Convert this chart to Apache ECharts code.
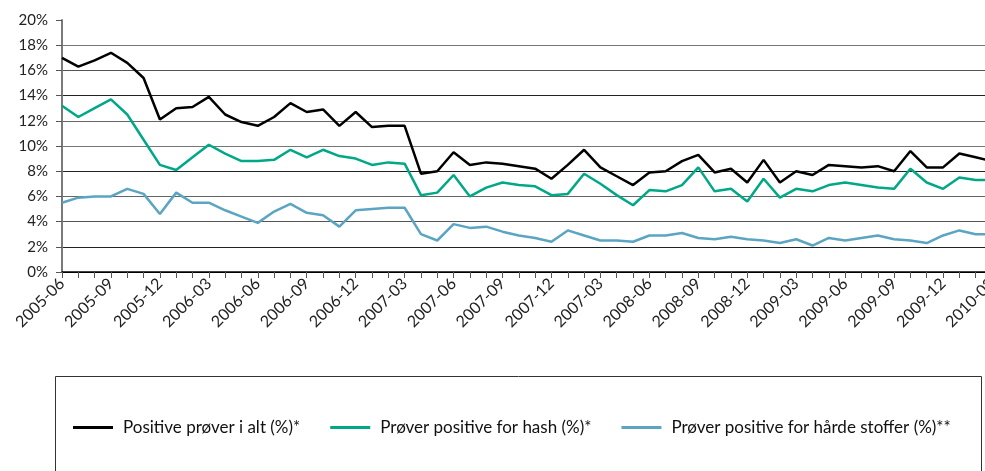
<!DOCTYPE html>
<html lang="no">
<head>
<meta charset="UTF-8">
<title>Positive prøver</title>
<style>
  html, body { margin: 0; padding: 0; background: #fff; }
  #chart { width: 985px; height: 471px; }
</style>
</head>
<body>
<div id="chart"></div>
<script src="https://cdn.jsdelivr.net/npm/echarts@6/dist/echarts.min.js"></script>
<script>
// months 2005-06 .. 2010-03
const months = [
  '2005-06', '2005-07', '2005-08', '2005-09', '2005-10', '2005-11', '2005-12',
  '2006-01', '2006-02', '2006-03', '2006-04', '2006-05', '2006-06', '2006-07', '2006-08', '2006-09', '2006-10', '2006-11', '2006-12',
  '2007-01', '2007-02', '2007-03', '2007-04', '2007-05', '2007-06', '2007-07', '2007-08', '2007-09', '2007-10', '2007-11', '2007-12',
  '2008-01', '2008-02', '2008-03', '2008-04', '2008-05', '2008-06', '2008-07', '2008-08', '2008-09', '2008-10', '2008-11', '2008-12',
  '2009-01', '2009-02', '2009-03', '2009-04', '2009-05', '2009-06', '2009-07', '2009-08', '2009-09', '2009-10', '2009-11', '2009-12',
  '2010-01', '2010-02', '2010-03'
];

// labels shown on every third month, as printed in the original
const tickLabels = [
  '2005-06', '2005-09', '2005-12', '2006-03', '2006-06', '2006-09', '2006-12',
  '2007-03', '2007-06', '2007-09', '2007-12', '2007-03', '2008-06', '2008-09',
  '2008-12', '2009-03', '2009-06', '2009-09', '2009-12', '2010-03'
];

const total = [
  17.0, 16.3, 16.8, 17.4, 16.6, 15.4, 12.1,
  13.0, 13.1, 13.9, 12.5, 11.9, 11.6, 12.3, 13.4, 12.7, 12.9, 11.6, 12.7,
  11.5, 11.6, 11.6, 7.8, 8.0, 9.5, 8.5, 8.7, 8.6, 8.4, 8.2, 7.4,
  8.5, 9.7, 8.3, 7.6, 6.9, 7.9, 8.0, 8.8, 9.3, 7.9, 8.2, 7.1,
  8.9, 7.1, 8.0, 7.7, 8.5, 8.4, 8.3, 8.4, 8.0, 9.6, 8.3, 8.3,
  9.4, 9.1, 8.8
];

const hash = [
  13.2, 12.3, 13.0, 13.7, 12.5, 10.5, 8.5,
  8.1, 9.1, 10.1, 9.4, 8.8, 8.8, 8.9, 9.7, 9.1, 9.7, 9.2, 9.0,
  8.5, 8.7, 8.6, 6.1, 6.3, 7.7, 6.0, 6.7, 7.1, 6.9, 6.8, 6.1,
  6.2, 7.8, 7.0, 6.1, 5.3, 6.5, 6.4, 6.9, 8.3, 6.4, 6.6, 5.6,
  7.4, 5.9, 6.6, 6.4, 6.9, 7.1, 6.9, 6.7, 6.6, 8.2, 7.1, 6.6,
  7.5, 7.3, 7.3
];

const hard = [
  5.5, 5.9, 6.0, 6.0, 6.6, 6.2, 4.6,
  6.3, 5.5, 5.5, 4.9, 4.4, 3.9, 4.8, 5.4, 4.7, 4.5, 3.6, 4.9,
  5.0, 5.1, 5.1, 3.0, 2.5, 3.8, 3.5, 3.6, 3.2, 2.9, 2.7, 2.4,
  3.3, 2.9, 2.5, 2.5, 2.4, 2.9, 2.9, 3.1, 2.7, 2.6, 2.8, 2.6,
  2.5, 2.3, 2.6, 2.1, 2.7, 2.5, 2.7, 2.9, 2.6, 2.5, 2.3, 2.9,
  3.3, 3.0, 3.0
];

const seriesNames = [
  'Positive prøver i alt (%)*',
  'Prøver positive for hash (%)*',
  'Prøver positive for hårde stoffer (%)**'
];
const colors = ['#000000', '#00a887', '#5ba5c2'];
const font = 'Lato, "Noto Sans", sans-serif';

const chart = echarts.init(document.getElementById('chart'));
chart.setOption({
  animation: false,
  color: colors,
  textStyle: { fontFamily: font },
  grid: { left: 62, right: -7, top: 20, bottom: 199, outerBoundsMode: 'none', containLabel: false },
  xAxis: {
    type: 'category',
    data: months,
    boundaryGap: false,
    axisLine: { lineStyle: { color: '#000', width: 1.5 } },
    axisTick: { show: true, interval: 0, length: 6, lineStyle: { color: '#555' } },
    axisLabel: {
      interval: 2,
      rotate: 45,
      margin: 9,
      fontSize: 16,
      color: '#222',
      fontFamily: font,
      formatter: (v, i) => tickLabels[Math.round(i / 3)]
    },
    splitLine: { show: false }
  },
  yAxis: {
    type: 'value',
    min: 0,
    max: 20,
    interval: 2,
    axisLine: { show: true, lineStyle: { color: '#7a7a7a', width: 2 } },
    axisTick: { show: true, length: 6, lineStyle: { color: '#555' } },
    axisLabel: { formatter: '{value}%', fontSize: 15, color: '#222', margin: 14, fontFamily: font },
    splitLine: {
      show: true,
      showMaxLine: false,
      lineStyle: { color: ['#000', '#222', '#555', '#666', '#222', '#777', '#666', '#222', '#555', '#777'], width: 1 }
    }
  },
  legend: {
    left: 68,
    top: 414,
    icon: 'rect',
    itemWidth: 40,
    itemHeight: 3,
    itemGap: 30,
    textStyle: { fontSize: 17, color: '#111', fontFamily: font, padding: [0, 0, 0, 5] },
    data: seriesNames
  },
  graphic: [{
    type: 'rect',
    shape: { x: 55.5, y: 376.5, width: 926, height: 120 },
    style: { fill: 'none', stroke: '#333', lineWidth: 1 },
    silent: true
  }],
  series: [
    { name: seriesNames[0], type: 'line', data: total, showSymbol: false, lineStyle: { width: 2.5 } },
    { name: seriesNames[1], type: 'line', data: hash, showSymbol: false, lineStyle: { width: 2.5 } },
    { name: seriesNames[2], type: 'line', data: hard, showSymbol: false, lineStyle: { width: 2.5 } }
  ]
});
window.addEventListener('resize', () => {
  chart.resize();
});
</script>
</body>
</html>
